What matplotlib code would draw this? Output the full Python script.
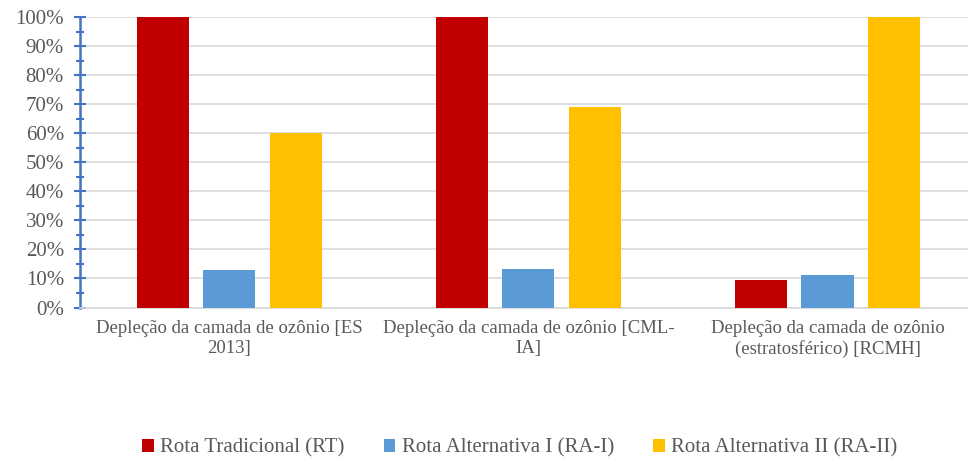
import matplotlib.pyplot as plt
import numpy as np
from matplotlib.ticker import MultipleLocator, PercentFormatter

plt.rcParams['font.family'] = ['Liberation Serif', 'DejaVu Serif']

categories = ["Depleção da camada de ozônio [ES\n2013]",
              "Depleção da camada de ozônio [CML-\nIA]",
              "Depleção da camada de ozônio\n(estratosférico) [RCMH]"]
series = ["Rota Tradicional (RT)", "Rota Alternativa I (RA-I)", "Rota Alternativa II (RA-II)"]
rt = [100, 100, 9.5]
ra1 = [13, 13.2, 11.2]
ra2 = [60, 69, 100]
colors = ["#C00000", "#5B9BD5", "#FFC000"]

grey = "#595959"
fig = plt.figure(figsize=(9.68, 4.59), dpi=100)
ax = fig.add_axes([0.0826, 0.330, 0.9267, 0.633])

x = np.arange(len(categories))
w = 0.174
step = 0.221
for i, (vals, name, c) in enumerate(zip([rt, ra1, ra2], series, colors)):
    ax.bar(x + (i - 1) * step, vals, w, color=c, label=name, zorder=3)

ax.set_xlim(-0.5, 2.5)
ax.set_ylim(0, 100)
ax.yaxis.set_major_locator(MultipleLocator(10))
ax.yaxis.set_minor_locator(MultipleLocator(5))
ax.yaxis.set_major_formatter(PercentFormatter(decimals=0))
ax.grid(axis='y', color='#D9D9D9', linewidth=1.2, zorder=0)
ax.set_xticks(x)
ax.set_xticklabels(categories, color=grey, fontsize=13.5, linespacing=1.25)
ax.tick_params(axis='x', length=0, pad=9)
ax.tick_params(axis='y', which='major', direction='inout', length=9, width=1.5,
               color='#4472C4', labelcolor=grey, labelsize=15, pad=7)
ax.tick_params(axis='y', which='minor', direction='inout', length=6, width=1.5,
               color='#4472C4')
for s in ['top', 'right']:
    ax.spines[s].set_visible(False)
ax.spines['left'].set_color('#4472C4')
ax.spines['left'].set_linewidth(1.8)
ax.spines['bottom'].set_color('#D9D9D9')
ax.spines['bottom'].set_linewidth(1.2)

leg = fig.legend(loc='center', bbox_to_anchor=(0.537, 0.024), ncol=3, frameon=False,
                 handlelength=0.55, handleheight=0.55, handletextpad=0.3,
                 columnspacing=1.9, fontsize=15)
for t in leg.get_texts():
    t.set_color(grey)

fig.savefig("out.png", dpi=100)
